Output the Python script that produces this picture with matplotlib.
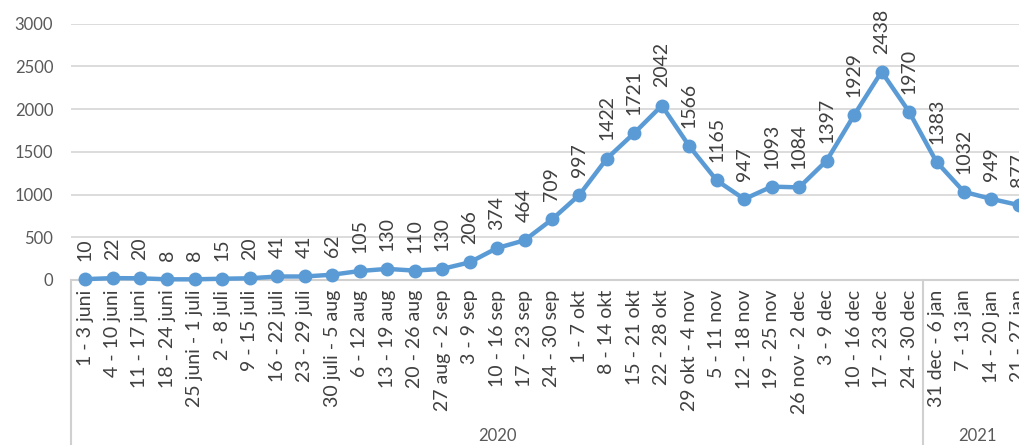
import matplotlib
matplotlib.use("Agg")
import matplotlib.pyplot as plt
import matplotlib.transforms as mtransforms

# weekly counts, June 2020 - January 2021
weeks = [
    "1 - 3 juni", "4 - 10 juni", "11 - 17 juni", "18 - 24 juni", "25 juni - 1 juli",
    "2 - 8 juli", "9 - 15 juli", "16 - 22 juli", "23 - 29 juli", "30 juli - 5 aug",
    "6 - 12 aug", "13 - 19 aug", "20 - 26 aug", "27 aug - 2 sep", "3 - 9 sep",
    "10 - 16 sep", "17 - 23 sep", "24 - 30 sep", "1 - 7 okt", "8 - 14 okt",
    "15 - 21 okt", "22 - 28 okt", "29 okt - 4 nov", "5 - 11 nov", "12 - 18 nov",
    "19 - 25 nov", "26 nov - 2 dec", "3 - 9 dec", "10 - 16 dec", "17 - 23 dec",
    "24 - 30 dec", "31 dec - 6 jan", "7 - 13 jan", "14 - 20 jan", "21 - 27 jan",
]
cases = [
    10, 22, 20, 8, 8, 15, 20, 41, 41, 62,
    105, 130, 110, 130, 206, 374, 464, 709, 997, 1422,
    1721, 2042, 1566, 1165, 947, 1093, 1084, 1397, 1929, 2438,
    1970, 1383, 1032, 949, 877,
]
years = ["2020", "2021"]
year_counts = [31, 4]
y_ticks = [0, 500, 1000, 1500, 2000, 2500, 3000]

plt.rcParams['font.family'] = ['Lato', 'DejaVu Sans']

W, H = 1020, 445
fig = plt.figure(figsize=(W / 100, H / 100), dpi=100)
left_px, bottom_px, top_px = 71.3, 280, 23.7
ax = fig.add_axes([left_px / W, (H - bottom_px) / H, 1 - left_px / W,
                   (bottom_px - top_px) / H])

x = list(range(len(cases)))
ax.plot(x, cases, color="#5B9BD5", lw=3.2, marker="o", ms=9,
        clip_on=False, zorder=3)

for xi, v in zip(x, cases):
    ax.annotate(str(v), (xi, v), xytext=(0, 13), textcoords="offset points",
                rotation=90, ha="center", va="bottom", fontsize=14,
                color="#404040", annotation_clip=False)

ax.set_xlim(-0.5, len(cases) - 1 + 0.04)
ax.set_ylim(0, 3000)
ax.set_yticks(y_ticks)
ax.set_yticklabels([str(t) for t in y_ticks], fontsize=12, color="#595959")
ax.tick_params(axis="y", length=0, pad=13)
ax.grid(axis="y", color="#D9D9D9", lw=1.3)
ax.set_axisbelow(True)
for s in ["top", "right", "left"]:
    ax.spines[s].set_visible(False)
ax.spines["bottom"].set_color("#D0D0D0")
ax.spines["bottom"].set_linewidth(1.5)

ax.set_xticks(x)
ax.set_xticklabels(weeks, rotation=90, fontsize=14, color="#404040",
                   va="top", ha="center")
ax.tick_params(axis="x", length=0, pad=7)

# year grouping below the category labels
trans = mtransforms.blended_transform_factory(ax.transData, fig.transFigure)
y_axis_fig = (H - bottom_px) / H
start = -0.5
for yr, n in zip(years, year_counts):
    ax.plot([start, start], [0, y_axis_fig], transform=trans, color="#D0D0D0",
            lw=1.5, clip_on=False)
    ax.text(start + n / 2, 1 / H, yr, transform=trans, ha="center",
            va="bottom", fontsize=12, color="#595959")
    start += n

fig.savefig("out.png", dpi=100)
